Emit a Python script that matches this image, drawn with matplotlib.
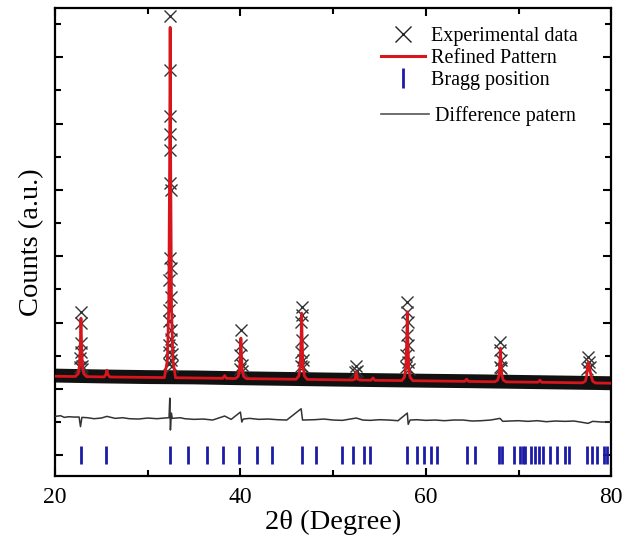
import matplotlib
matplotlib.use("Agg")
import matplotlib.pyplot as plt
from matplotlib.lines import Line2D
from matplotlib.ticker import MultipleLocator, NullFormatter

plt.rcParams['font.family'] = ['Liberation Serif', 'DejaVu Serif']

# refined (calculated) pattern
calc_x = [20.0, 22.2, 22.5, 22.65, 22.74, 22.8, 22.86, 22.95, 23.1, 23.4,
          25.3, 25.5, 25.6, 25.7, 25.9,
          31.8, 32.12, 32.27, 32.36, 32.42, 32.48, 32.57, 32.72, 33.0,
          38.1, 38.3, 38.5,
          39.45, 39.75, 39.9, 39.99, 40.05, 40.11, 40.2, 40.35, 40.65,
          46.0, 46.3, 46.45, 46.54, 46.6, 46.66, 46.75, 46.9, 47.2,
          52.1, 52.35, 52.5, 52.65, 52.9,
          54.1, 54.3, 54.5,
          57.4, 57.7, 57.85, 57.94, 58.0, 58.06, 58.15, 58.3, 58.6,
          64.2, 64.4, 64.6,
          67.45, 67.75, 67.9, 67.99, 68.05, 68.11, 68.2, 68.35, 68.65,
          72.1, 72.3, 72.5,
          76.9, 77.2, 77.35, 77.45, 77.55, 77.65, 77.8, 78.0, 78.3,
          80.0]
calc_y = [2380, 2372, 2458, 2722, 3426, 4130, 3426, 2722, 2458, 2368,
          2361, 2440, 2560, 2440, 2358,
          2340, 2865, 4450, 8675, 12900, 8675, 4450, 2865, 2335,
          2318, 2400, 2316,
          2312, 2371, 2554, 3042, 3530, 3042, 2554, 2371, 2308,
          2289, 2387, 2686, 3485, 4284, 3485, 2686, 2387, 2285,
          2266, 2290, 2504, 2290, 2264,
          2260, 2330, 2258,
          2249, 2351, 2662, 3493, 4323, 3493, 2662, 2351, 2245,
          2226, 2290, 2224,
          2214, 2263, 2415, 2822, 3228, 2822, 2415, 2263, 2210,
          2200, 2260, 2198,
          2181, 2230, 2400, 2650, 2806, 2650, 2420, 2230, 2176,
          2170]

# background band of the observed points
bg_x = [20, 25, 30, 35, 40, 45, 50, 55, 60, 65, 70, 75, 80]
bg_y = [2400, 2375, 2355, 2345, 2320, 2300, 2280, 2262, 2245, 2230, 2210, 2190, 2170]

# observed points visible on the peak flanks
obs_x = [32.42, 32.40, 32.43, 32.41, 32.44, 32.38, 32.46, 32.36, 32.48, 32.35, 32.49, 32.34,
         32.50, 32.31, 32.55, 32.33, 32.52, 32.28, 32.58, 32.25, 32.62,
         22.80, 22.78, 22.76, 22.84, 22.72, 22.88, 22.70, 22.92,
         40.05, 40.08, 40.00, 40.13, 39.96, 40.18,
         46.60, 46.62, 46.57, 46.64, 46.53, 46.70, 46.50, 46.74,
         52.50, 52.60, 52.40,
         58.00, 57.97, 58.04, 57.95, 58.07, 57.90, 58.12, 57.86, 58.16,
         68.05, 68.00, 68.12, 67.96, 68.16,
         77.50, 77.60, 77.40, 77.70]
obs_y = [13245, 11600, 10228, 9685, 9202, 8206, 7995, 5944, 5642, 5280, 4767, 4375,
         3771, 3319, 2866, 4050, 3500, 3100, 3050, 2750, 2700,
         4314, 3982, 3379, 3107, 2926, 2700, 2650, 2600,
         3771, 3319, 3017, 2715, 2600, 2550,
         4465, 4224, 4013, 3469, 3107, 2866, 2700, 2650,
         2685, 2550, 2500,
         4616, 4314, 4013, 3620, 3319, 3017, 2806, 2650, 2600,
         3409, 3168, 2866, 2650, 2620,
         2957, 2806, 2600, 2650]

# difference curve
diff_x = [20.0, 20.6, 21.0, 21.5, 22.0, 22.6, 22.75, 22.9, 23.5, 24.2, 25.0, 25.6, 26.5, 27.3,
          28.0, 29.0, 30.0, 31.0, 31.8,
          32.3, 32.38, 32.45, 32.55, 32.65, 33.5, 34.0, 35.0, 36.0, 37.0, 38.3, 39.0,
          40.0, 40.15, 40.3, 41.0, 42.0, 43.0, 44.0, 45.0, 46.55, 46.7, 48.0, 49.0,
          50.0, 51.0, 52.5, 53.2, 54.0, 55.0, 56.0, 57.0,
          58.0, 58.1, 58.3, 59.0, 60.0, 61.0, 62.0, 63.0, 64.0, 65.0, 66.0, 67.0,
          68.0, 68.3, 69.0, 70.0, 71.0, 72.0, 73.0, 74.0, 75.0, 76.0,
          77.5, 78.0, 79.0, 80.0]
diff_y = [1170, 1190, 1140, 1160, 1150, 1150, 860, 1140, 1130, 1100, 1120, 1170, 1110, 1130,
          1100, 1090, 1120, 1100, 1120,
          1130, 1720, 760, 1270, 1110, 1130, 1100, 1080, 1090, 1060, 1180, 1080,
          1300, 1000, 1090, 1110, 1080, 1090, 1070, 1060, 1400, 1060, 1070, 1090,
          1060, 1050, 1120, 1060, 1050, 1070, 1060, 1040,
          1270, 930, 1060, 1070, 1050, 1060, 1040, 1060, 1060, 1030, 1040, 1060,
          1110, 1020, 1030, 1040, 1020, 1040, 1010, 1030, 1020, 1030,
          960, 1020, 1000, 1000]

# Bragg reflections
bragg_pos = [22.81, 25.50, 32.41, 34.39, 36.37, 38.16, 39.89, 41.77, 43.38, 46.62, 48.17,
             50.94, 52.15, 53.30, 53.95, 57.95, 59.03, 59.75, 60.57, 61.19, 64.43, 65.32,
             67.91, 68.20, 69.46, 70.18, 70.43, 70.72, 71.37, 71.80, 72.23, 72.69, 73.42,
             74.14, 75.03, 75.39, 77.37, 77.91, 78.45, 79.17, 79.53]
bragg_level = 0

fig = plt.figure(figsize=(6.25, 5.41), dpi=100)
ax = fig.add_axes([0.088, 0.12, 0.89, 0.865])

ax.plot(bg_x, bg_y, color='#111111', lw=10, solid_capstyle='butt', zorder=2)
ax.plot(obs_x, obs_y, ls='none', marker='x', ms=8, mew=1.0, color='#333333', zorder=3)
ax.plot(calc_x, calc_y, color='#d8141c', lw=2.0, zorder=4)
ax.plot(diff_x, diff_y, color='#333333', lw=1.1, zorder=3)
ax.plot(bragg_pos, [bragg_level] * len(bragg_pos), ls='none', marker='|', ms=13,
        mew=2.0, color='#1c1ca8', zorder=3)

ax.set_xlim(20, 80)
ax.set_ylim(-630, 13480)
ax.xaxis.set_major_locator(MultipleLocator(20))
ax.xaxis.set_minor_locator(MultipleLocator(10))
ax.yaxis.set_major_locator(MultipleLocator(2000))
ax.yaxis.set_minor_locator(MultipleLocator(1000))
ax.yaxis.set_major_formatter(NullFormatter())
ax.tick_params(which='both', direction='in', top=True, right=True, width=1.5)
ax.tick_params(which='major', length=6, labelsize=17, pad=8)
ax.tick_params(which='minor', length=4)
for s in ax.spines.values():
    s.set_linewidth(1.6)

ax.set_xlabel('2θ (Degree)', fontsize=20.5, labelpad=1)
ax.set_ylabel('Counts (a.u.)', fontsize=20.5, labelpad=0)

h1 = [Line2D([], [], ls='none', marker='x', ms=12, mew=1.0, color='#222222'),
      Line2D([], [], color='#d8141c', lw=2.2),
      Line2D([], [], ls='none', marker='|', ms=14, mew=2.0, color='#1c1ca8')]
leg1 = ax.legend(h1, ['Experimental data', 'Refined Pattern', 'Bragg position'],
                 loc='upper left', bbox_to_anchor=(0.56, 0.99), frameon=False,
                 fontsize=14.5, handlelength=2.2, handletextpad=0.3, labelspacing=0.15,
                 borderpad=0.2)
ax.add_artist(leg1)
h2 = [Line2D([], [], color='#555555', lw=1.2)]
ax.legend(h2, ['Difference patern'], loc='upper left', bbox_to_anchor=(0.56, 0.82),
          frameon=False, fontsize=14.5, handlelength=2.4, handletextpad=0.3, borderpad=0.2)

fig.savefig('out.png', dpi=100)
